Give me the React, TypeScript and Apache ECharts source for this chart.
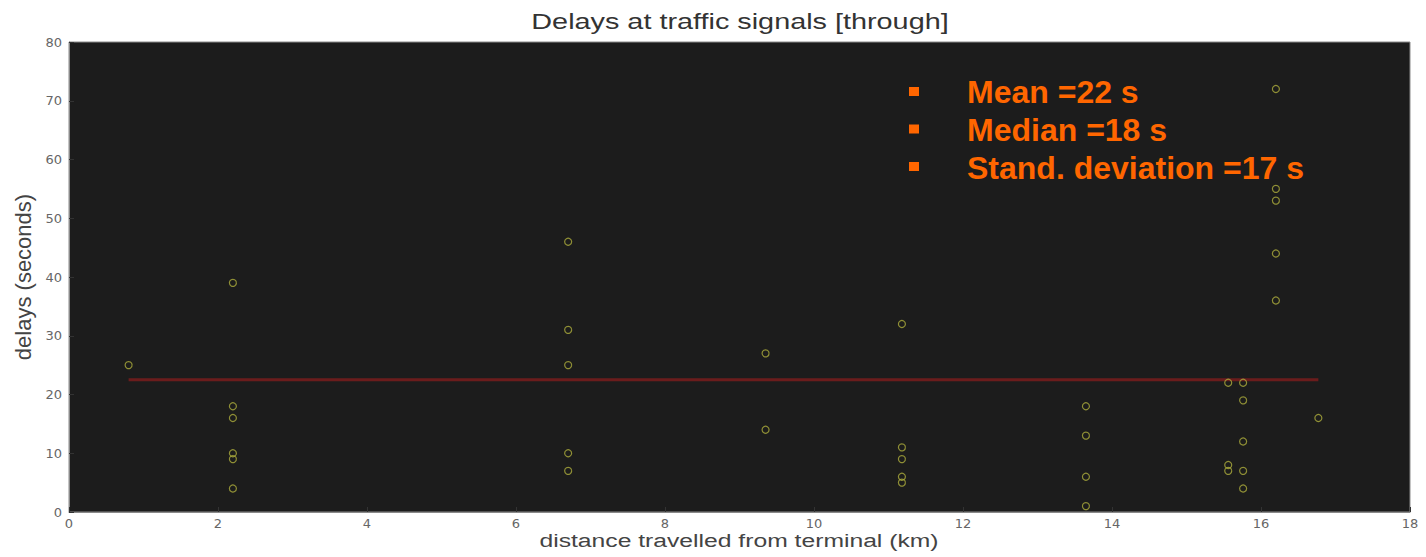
import React, { useEffect, useRef } from "react";
import * as echarts from "echarts";

const TITLE = "Delays at traffic signals [through]";
const X_NAME = "distance travelled from terminal (km)";
const Y_NAME = "delays (seconds)";

// distance (km) and delay (s) of each observation
const distances = [
  0.8,
  2.2, 2.2, 2.2, 2.2, 2.2, 2.2,
  6.7, 6.7, 6.7, 6.7, 6.7,
  9.35, 9.35,
  11.18, 11.18, 11.18, 11.18, 11.18,
  13.65, 13.65, 13.65, 13.65,
  15.56, 15.56, 15.56,
  15.76, 15.76, 15.76, 15.76, 15.76,
  16.2, 16.2, 16.2, 16.2, 16.2,
  16.77,
];
const delays = [
  25,
  39, 18, 16, 10, 9, 4,
  46, 31, 25, 10, 7,
  27, 14,
  32, 11, 9, 6, 5,
  18, 13, 6, 1,
  22, 8, 7,
  22, 19, 12, 7, 4,
  72, 55, 53, 44, 36,
  16,
];

const MEAN_VALUE = 22.5;
const MEAN_RANGE = [0.8, 16.77];

const STATS = ["Mean =22 s", "Median =18 s", "Stand. deviation =17 s"];

export default function App() {
  const ref = useRef<HTMLDivElement>(null);
  useEffect(() => {
    if (!ref.current) return;
    const chart = echarts.init(ref.current, null, { renderer: "svg" });
    const points = distances.map((d, i) => [d, delays[i]]);
    const meanLine = MEAN_RANGE.map((x) => [x, MEAN_VALUE]);
    const font = "'Liberation Sans', Arial, Helvetica, sans-serif";
    const tickFont = "'DejaVu Sans', 'Liberation Sans', sans-serif";
    const graphics: any[] = [
      {
        type: "text",
        x: 740,
        y: 21,
        scaleX: 1.31,
        style: {
          text: TITLE,
          fill: "#333",
          font: `22px ${font}`,
          textAlign: "center",
          textVerticalAlign: "middle",
        },
      },
      {
        type: "text",
        x: 739,
        y: 541,
        scaleX: 1.3,
        style: {
          text: X_NAME,
          fill: "#444",
          font: `19px ${font}`,
          textAlign: "center",
          textVerticalAlign: "middle",
        },
      },
    ];
    STATS.forEach((s, i) => {
      graphics.push({
        type: "rect",
        left: 909,
        top: 87 + i * 37.5,
        shape: { width: 10, height: 9 },
        style: { fill: "#ff6600" },
        z: 100,
      });
      graphics.push({
        type: "text",
        left: 967,
        top: 76 + i * 38,
        style: {
          text: s,
          fill: "#ff6600",
          font: `bold 32px ${font}`,
        },
        z: 100,
      });
    });
    chart.setOption({
      animation: false,
      backgroundColor: "#ffffff",
      grid: {
        left: 69,
        right: 16,
        top: 42,
        bottom: 45,
        show: true,
        backgroundColor: "#1c1c1c",
        borderColor: "#8a8a8a",
        borderWidth: 1,
      },
      xAxis: {
        type: "value",
        min: 0,
        max: 18,
        interval: 2,
        axisLine: { show: true, lineStyle: { color: "#8a8a8a" } },
        axisTick: { show: true, inside: true, length: 5, lineStyle: { color: "#333" } },
        axisLabel: { fontFamily: tickFont, fontSize: 13, color: "#666", margin: 5 },
        splitLine: { show: false },
      },
      yAxis: {
        type: "value",
        min: 0,
        max: 80,
        interval: 10,
        name: Y_NAME,
        nameLocation: "middle",
        nameGap: 33,
        nameTextStyle: { fontFamily: font, fontSize: 22, color: "#444" },
        axisLine: { show: true, lineStyle: { color: "#8a8a8a" } },
        axisTick: { show: true, inside: true, length: 5, lineStyle: { color: "#333" } },
        axisLabel: { fontFamily: tickFont, fontSize: 13, color: "#666", margin: 7 },
        splitLine: { show: false },
      },
      series: [
        {
          type: "line",
          data: meanLine,
          symbol: "none",
          lineStyle: { color: "#6b1c1c", width: 3 },
          z: 2,
        },
        {
          type: "scatter",
          data: points,
          symbol: "circle",
          symbolSize: 7,
          itemStyle: { color: "transparent", borderColor: "#acac3c", borderWidth: 1.2 },
          z: 3,
        },
      ],
      graphic: graphics,
    });
    return () => chart.dispose();
  }, []);
  return (
    <div
      ref={ref}
      style={{ position: "fixed", left: 0, top: 0, width: 1426, height: 557 }}
    />
  );
}
